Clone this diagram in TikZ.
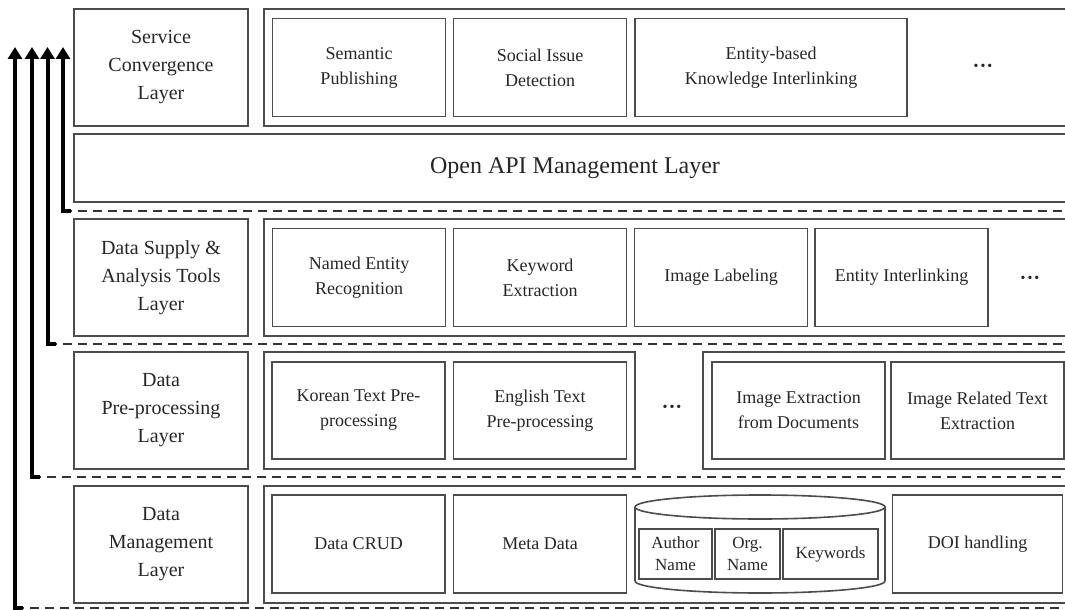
\documentclass[tikz,border=0pt]{standalone}
\usepackage{fontspec}
\setmainfont{Liberation Serif}
\usetikzlibrary{arrows.meta}

\tikzset{
  layerbox/.style={draw=black!70, line width=0.8pt, inner sep=0pt, outer sep=0pt, align=center,
    text=black!85, font=\fontsize{10}{14}\selectfont, minimum width=87pt, minimum height=58.5pt},
  groupbox/.style={draw=black!70, line width=0.8pt, inner sep=0pt, outer sep=0pt, minimum height=58.5pt},
  funcbox/.style={draw=black!70, line width=0.8pt, inner sep=0pt, outer sep=0pt, align=center,
    text=black!85, font=\fontsize{9}{12.5}\selectfont, minimum width=86.5pt, minimum height=49pt},
  fieldbox/.style={draw=black!70, line width=0.8pt, inner sep=0pt, outer sep=0pt, align=center,
    text=black!85, font=\fontsize{8.5}{11}\selectfont, minimum height=25pt},
  moredots/.style={text=black!85, inner sep=0pt, font=\fontsize{7}{7}\selectfont},
  sepline/.style={dashed, dash pattern=on 4.5pt off 3pt, line width=1.3pt, black!80},
  flowarrow/.style={line width=2pt, -{Triangle[length=6pt,width=7pt]}},
}

\begin{document}
\begin{tikzpicture}[x=0.5pt, y=-0.5pt]
  \useasboundingbox (0,0) rectangle (1065,610);
  \clip (0,0) rectangle (1065,610);

  % layer names
  \node[layerbox] (svc) at (161,67.5) {Service\\Convergence\\Layer};
  \node[layerbox] (sup) at (161,277.5) {Data Supply \&\\Analysis Tools\\Layer};
  \node[layerbox] (pre) at (161,410.5) {Data\\Pre-processing\\Layer};
  \node[layerbox] (mgmt) at (161,544.5) {Data\\Management\\Layer};

  % service convergence layer
  \node[groupbox, minimum width=406pt] (svcgrp) at (670,67.5) {};
  \node[funcbox] (pub) at (359,67.5) {Semantic\\Publishing};
  \node[funcbox] (issue) at (540,67.5) {Social Issue\\Detection};
  \node[funcbox, minimum width=136pt] (link) at (771,67.5) {Entity-based\\Knowledge Interlinking};
  \node[moredots] (svcdots) at (983,67.5) {•\hspace{1pt}•\hspace{1pt}•};

  % open api
  \node[layerbox, minimum width=501pt, minimum height=34pt, font=\fontsize{12}{14}\selectfont] (api) at (575,168) {Open API Management Layer};

  % data supply & analysis tools layer
  \node[groupbox, minimum width=406pt] (supgrp) at (670,277.5) {};
  \node[funcbox] (ner) at (359,277.5) {Named Entity\\Recognition};
  \node[funcbox] (kwd) at (540,277.5) {Keyword\\Extraction};
  \node[funcbox] (label) at (721,277.5) {Image Labeling};
  \node[funcbox] (entlink) at (901.5,277.5) {Entity Interlinking};
  \node[moredots] (supdots) at (1030,279) {•\hspace{1pt}•\hspace{1pt}•};

  % data pre-processing layer
  \node[groupbox, minimum width=185.5pt] (pregrpa) at (449.5,410.5) {};
  \node[groupbox, minimum width=186.5pt] (pregrpb) at (889.5,410.5) {};
  \node[funcbox, minimum height=48.5pt] (kor) at (358.5,410.5) {Korean Text Pre-\\processing};
  \node[funcbox, minimum height=48.5pt] (eng) at (540,410.5) {English Text\\Pre-processing};
  \node[moredots] (predots) at (672,408) {•\hspace{1pt}•\hspace{1pt}•};
  \node[funcbox, minimum height=48.5pt] (imgext) at (798.5,410.5) {Image Extraction\\from Documents};
  \node[funcbox, minimum height=48.5pt] (imgtxt) at (977.5,410.5) {Image Related Text\\Extraction};

  % data management layer
  \node[groupbox, minimum width=406pt] (mgmtgrp) at (670,544.5) {};
  \node[funcbox] (crud) at (358.5,544) {Data CRUD};
  \node[funcbox] (meta) at (540,544) {Meta Data};
  \node[funcbox, minimum width=85pt] (doi) at (977.5,544) {DOI handling};
  % database
  \draw[black!70, line width=0.8pt] (635,581) -- (635,507) (885,507) -- (885,581);
  \draw[black!70, line width=0.8pt] (760,507) ellipse[x radius=62.5pt, y radius=6pt];
  \draw[black!70, line width=0.8pt] (635,581) arc[start angle=180, end angle=360, x radius=62.5pt, y radius=6pt];
  \node[fieldbox, minimum width=36.5pt] (author) at (675.5,554) {Author\\Name};
  \node[fieldbox, minimum width=32.5pt] (org) at (747.5,554) {Org.\\Name};
  \node[fieldbox, minimum width=47.5pt] (kw) at (830.5,554) {Keywords};

  % separators and flow arrows
  \coordinate (s1) at (15,608);  \coordinate (t1) at (15,47);
  \coordinate (s2) at (32,477);  \coordinate (t2) at (32,47);
  \coordinate (s3) at (47.5,344); \coordinate (t3) at (47.5,47);
  \coordinate (s4) at (63,211);  \coordinate (t4) at (63,47);
  \coordinate (e1) at (1075,608);
  \coordinate (e2) at (1075,477);
  \coordinate (e3) at (1075,344);
  \coordinate (e4) at (1075,211);
  \foreach \i in {1,...,4} {
    \draw[sepline] (s\i) -- (e\i);
    \draw[flowarrow] ([xshift=4pt]s\i) -- (s\i) -- (t\i);
  }
\end{tikzpicture}
\end{document}
